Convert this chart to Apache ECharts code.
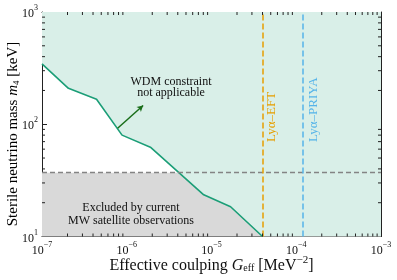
<!DOCTYPE html>
<html><head><meta charset="utf-8">
<script src="https://cdn.jsdelivr.net/npm/echarts@6/dist/echarts.min.js"></script>
<style>html,body{margin:0;padding:0;background:#fff}#c{width:397px;height:280px}</style>
</head><body><div id="c"></div>
<script>
// ---- data ----
const couplingG = [1e-7, 2.05e-7, 4.4e-7, 8.8e-7, 1.9e-6, 8.1e-6, 1.68e-5, 4.0e-5];
const massM4    = [345, 209, 167, 80, 62.5, 23.5, 18.4, 10];
const fillCornerG = [1e-3];
const fillCornerM = [10];
const satelliteLimit = 37;
const lyaEFT = 4.0e-5;
const lyaPRIYA = 1.18e-4;
const arrowFrom = [7.8e-7, 92];
const arrowTo = [1.56e-6, 147];
const xRange = [1e-7, 1e-3];
const yRange = [10, 1000];
const xDecades = [-7, -6, -5, -4];
const yDecades = [1, 2];

const SERIF = "'Liberation Serif','Times New Roman',serif";
const curve = couplingG.map((g, i) => [g, massM4[i]]);
const fillPts = curve.concat(fillCornerG.map((g, i) => [g, fillCornerM[i]]));

const minorX = [], minorY = [];
xDecades.forEach(k => { for (let m = 2; m <= 9; m++) minorX.push([m * Math.pow(10, k), yRange[0]]); });
yDecades.forEach(k => { for (let m = 2; m <= 9; m++) minorY.push([xRange[0], m * Math.pow(10, k)]); });

function expLabel(v) {
  const e = Math.round(Math.log10(v));
  return '{b|10}{e|' + String(e).replace('-', '−') + '}';
}
const tickRich = {
  b: { fontFamily: SERIF, fontSize: 12, color: '#111', verticalAlign: 'bottom', lineHeight: 16 },
  e: { fontFamily: SERIF, fontSize: 8, color: '#111', verticalAlign: 'top', lineHeight: 16 }
};
const axisCommon = {
  type: 'log', logBase: 10,
  axisLine: { show: true, onZero: false, lineStyle: { color: '#222', width: 1 } },
  axisTick: { show: true, inside: true, length: 5, lineStyle: { color: '#222', width: 1 } },
  splitLine: { show: false }
};
function vLine(x, color) {
  return [
    { coord: [x, yRange[0]], symbol: 'none', lineStyle: { color: color, type: [6, 3], width: 1.5 } },
    { coord: [x, yRange[1]], symbol: 'none' }
  ];
}
function titleRich(fs) {
  return {
    n: { fontFamily: SERIF, fontSize: fs, color: '#111', verticalAlign: 'bottom', lineHeight: fs + 3 },
    i: { fontFamily: SERIF, fontSize: fs, fontStyle: 'italic', color: '#111', verticalAlign: 'bottom', lineHeight: fs + 3 },
    s: { fontFamily: SERIF, fontSize: Math.round(fs * 0.62), color: '#111', verticalAlign: 'bottom', lineHeight: fs - 1 },
    p: { fontFamily: SERIF, fontSize: Math.round(fs * 0.68), color: '#111', verticalAlign: 'top', lineHeight: fs + 3 }
  };
}

const chart = echarts.init(document.getElementById('c'), null, { renderer: 'canvas' });
chart.setOption({
  animation: false,
  backgroundColor: '#fff',
  grid: { left: 42, right: 16, top: 12, bottom: 43.5, containLabel: false, outerBoundsMode: 'none' },
  xAxis: [
    Object.assign({}, axisCommon, {
      position: 'bottom', min: xRange[0], max: xRange[1],
      axisLabel: { formatter: expLabel, rich: tickRich, margin: 4 },
      name: '{n|Effective coulping }{i|G}{s|eff}{n| [MeV}{p|−2}{n|]}',
      nameLocation: 'middle', nameGap: 18, nameMoveOverlap: false,
      nameTextStyle: { fontFamily: SERIF, fontSize: 16, color: '#111', rich: titleRich(16) }
    }),
    Object.assign({}, axisCommon, {
      position: 'top', min: xRange[0], max: xRange[1], axisLabel: { show: false }
    })
  ],
  yAxis: [
    Object.assign({}, axisCommon, {
      position: 'left', min: yRange[0], max: yRange[1],
      axisLabel: { formatter: expLabel, rich: tickRich, margin: 4 }
    }),
    Object.assign({}, axisCommon, {
      position: 'right', min: yRange[0], max: yRange[1], axisLabel: { show: false }
    })
  ],
  series: [
    {
      type: 'line', z: 1, data: [], silent: true,
      markArea: {
        silent: true,
        itemStyle: { color: '#d9d9d9' },
        data: [[{ coord: [xRange[0], yRange[0]] }, { coord: [xRange[1], satelliteLimit] }]]
      }
    },
    {
      type: 'line', z: 2, data: fillPts, symbol: 'none', silent: true,
      lineStyle: { width: 0 },
      areaStyle: { color: '#d9efe8', opacity: 1, origin: 'end' }
    },
    {
      type: 'line', z: 4, data: curve, symbol: 'none', silent: true,
      lineStyle: { color: '#1b9e77', width: 1.6 },
      markLine: {
        silent: true, symbol: ['none', 'none'], label: { show: false },
        data: [
          [
            { coord: [xRange[0], satelliteLimit], symbol: 'none', lineStyle: { color: '#848484', type: [5, 3], width: 1.3 } },
            { coord: [xRange[1], satelliteLimit], symbol: 'none' }
          ],
          vLine(lyaEFT, '#E69F00'),
          vLine(lyaPRIYA, '#56B4E9'),
          [
            { coord: arrowFrom, symbol: 'none', lineStyle: { color: '#1a6e1a', type: 'solid', width: 1.5 } },
            { coord: arrowTo, symbol: 'arrow', symbolSize: [5, 6] }
          ]
        ]
      }
    },
    {
      type: 'custom', z: 5, silent: true, data: minorX, encode: { x: 0, y: 1 },
      renderItem: function (params, api) {
        const v = api.value(0);
        const b = api.coord([v, yRange[0]]), t = api.coord([v, yRange[1]]);
        return { type: 'group', children: [
          { type: 'line', shape: { x1: b[0], y1: b[1], x2: b[0], y2: b[1] - 3 }, style: { stroke: '#222', lineWidth: 1 } },
          { type: 'line', shape: { x1: t[0], y1: t[1], x2: t[0], y2: t[1] + 3 }, style: { stroke: '#222', lineWidth: 1 } }
        ]};
      }
    },
    {
      type: 'custom', z: 5, silent: true, data: minorY, encode: { x: 0, y: 1 },
      renderItem: function (params, api) {
        const v = api.value(1);
        const l = api.coord([xRange[0], v]), r = api.coord([xRange[1], v]);
        return { type: 'group', children: [
          { type: 'line', shape: { x1: l[0], y1: l[1], x2: l[0] + 3, y2: l[1] }, style: { stroke: '#222', lineWidth: 1 } },
          { type: 'line', shape: { x1: r[0], y1: r[1], x2: r[0] - 3, y2: r[1] }, style: { stroke: '#222', lineWidth: 1 } }
        ]};
      }
    }
  ],
  graphic: [
    { type: 'text', x: 12, y: 134, rotation: Math.PI / 2, z: 10,
      style: { text: '{n|Sterile neutrino mass }{i|m}{s|4}{n| [keV]}', rich: titleRich(15), align: 'center', verticalAlign: 'middle' } },
    { type: 'text', x: 171, y: 87, z: 10,
      style: { text: 'WDM constraint\nnot applicable', font: '12px ' + SERIF, fill: '#111', align: 'center', verticalAlign: 'middle', lineHeight: 11 } },
    { type: 'text', x: 131, y: 214.5, z: 10,
      style: { text: 'Excluded by current\nMW satellite observations', font: '12px ' + SERIF, fill: '#111', align: 'center', verticalAlign: 'middle', lineHeight: 12.5 } },
    { type: 'text', x: 272, y: 142, rotation: Math.PI / 2, z: 10,
      style: { text: 'Lyα–EFT', font: '13px ' + SERIF, fill: '#E69F00', align: 'left', verticalAlign: 'middle' } },
    { type: 'text', x: 313.5, y: 142, rotation: Math.PI / 2, z: 10,
      style: { text: 'Lyα–PRIYA', font: '13px ' + SERIF, fill: '#56B4E9', align: 'left', verticalAlign: 'middle' } }
  ]
});
</script>
</body></html>
